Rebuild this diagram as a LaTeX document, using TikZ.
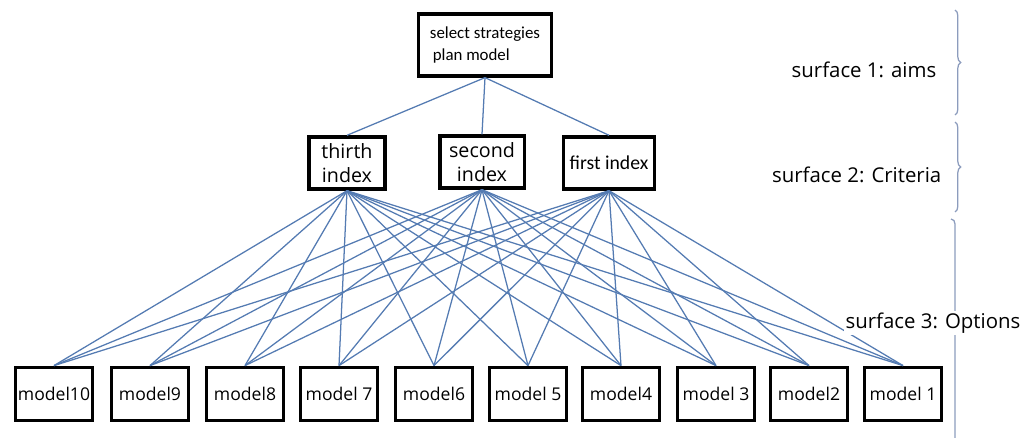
\documentclass[tikz,border=0pt]{standalone}
\usepackage{fontspec}
\setmainfont{Open Sans}
\newfontfamily\narrowfont{Carlito}
\usetikzlibrary{positioning}
\usetikzlibrary{decorations.pathreplacing}
\definecolor{linkblue}{RGB}{84,123,178}
\definecolor{bracegray}{RGB}{140,156,189}
\tikzset{
  box/.style={draw, rectangle, line width=2.4pt, fill=white, align=center, inner sep=1pt},
  modelbox/.style={box, minimum width=55pt, minimum height=38pt, font=\fontsize{12.5}{14}\selectfont},
  indexbox/.style={box, minimum height=37pt, font=\fontsize{14}{17}\selectfont},
  link/.style={draw=linkblue, line width=0.9pt},
  surfbrace/.style={draw=bracegray, line width=0.9pt, decorate, decoration={brace, amplitude=4pt}},
  surflabel/.style={font=\fontsize{14.5}{17}\selectfont, fill=white, inner sep=1pt}
}
\begin{document}
\begin{tikzpicture}[x=0.025cm, y=-0.025cm]
            \useasboundingbox (0,0) rectangle (1027,438);
            % surface 1
            \node[box, minimum width=95pt, minimum height=44pt, font=\narrowfont\fontsize{12}{15}\selectfont, align=left] (aim) at (485,45) {select strategies\\\,plan model};
            % surface 2
            \node[indexbox, minimum width=54pt] (idx3) at (347,163) {thirth\\index};
            \node[indexbox, minimum width=60pt] (idx2) at (482,162) {second\\index};
            \node[indexbox, minimum width=65pt, font=\narrowfont\fontsize{14}{16}\selectfont] (idx1) at (609,163) {first index};
            % surface 3
            \foreach \n/\x/\t in {10/54/model10, 9/150/model9, 8/245/model8, 7/339/model 7, 6/434/model6,
                                  5/528/model 5, 4/621/model4, 3/716/model 3, 2/809/model2, 1/903/model 1}
              \node[modelbox] (m\n) at (\x,394) {\t};

            \draw[link] (aim.south) -- (idx3.north);
            \draw[link] (aim.south) -- (idx2.north);
            \draw[link] (aim.south) -- (idx1.north);
            \foreach \i in {1,2,3}
              \foreach \n in {1,...,10}
                \draw[link] (idx\i.south) -- (m\n.north);

            % braces and labels on the right
            \coordinate (b1top) at (955,10);
            \coordinate (b1bot) at (955,115);
            \coordinate (b2top) at (955,122);
            \coordinate (b2bot) at (955,212);
            \coordinate (b3top) at (955,219);
            \coordinate (b3bot) at (955,438);
            \draw[surfbrace] (b1top) -- (b1bot);
            \draw[surfbrace] (b2top) -- (b2bot);
            \draw[draw=bracegray, line width=0.9pt] (951,219) to[out=0, in=90] (b3top |- 0,224) -- (b3bot);
            \node[surflabel, anchor=east] (s1) at (938,70) {surface 1: aims};
            \node[surflabel, anchor=east] (s2) at (943,175) {surface 2: Criteria};
            \node[surflabel] (s3) at (933,323) {surface 3: Options};
        \end{tikzpicture}
\end{document}
